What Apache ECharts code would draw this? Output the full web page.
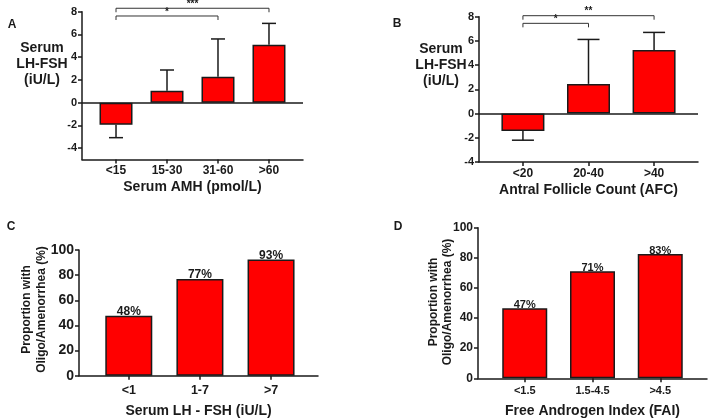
<!DOCTYPE html>
<html><head><meta charset="utf-8">
<script src="https://cdn.jsdelivr.net/npm/echarts@6/dist/echarts.min.js"></script>
<style>html,body{margin:0;padding:0;background:#fff}#c{width:708px;height:420px}</style>
</head><body><div id="c"></div>
<script>
// ---- data ----
const catsA = ['<15', '15-30', '31-60', '>60'];
const valsA = [-1.95, 1.05, 2.27, 5.1];
const errA = [1.13, 1.82, 3.33, 1.87];
const sigA = [[0, 2, 7.62, '*'], [0, 3, 8.3, '***']];
const yTicksA = [-4, -2, 0, 2, 4, 6, 8];

const catsB = ['<20', '20-40', '>40'];
const valsB = [-1.45, 2.45, 5.24];
const errB = [0.75, 3.67, 1.46];
const sigB = [[0, 1, 7.45, '*'], [0, 2, 8.08, '**']];
const yTicksB = [-4, -2, 0, 2, 4, 6, 8];

const catsC = ['<1', '1-7', '>7'];
const valsC = [47.7, 77, 92.5];
const labelsC = ['48%', '77%', '93%'];

const catsD = ['<1.5', '1.5-4.5', '>4.5'];
const valsD = [46.5, 71, 82.5];
const labelsD = ['47%', '71%', '83%'];
const yTicksCD = [0, 20, 40, 60, 80, 100];

// ---- styling ----
const FF = '"Liberation Sans", Arial, Helvetica, sans-serif';
const INK = '#1a1a1a';
const RED = '#ff0000';
const idx = a => a.map((_, i) => i);

function xAx(gi, cats, min, max, fs, margin) {
  return {
    type: 'value', gridIndex: gi, min: min, max: max,
    axisLine: { show: true, onZero: false, lineStyle: { color: INK, width: 1.5 } },
    axisTick: { show: true, length: 4, customValues: idx(cats), lineStyle: { color: INK, width: 1.5 } },
    axisLabel: { customValues: idx(cats), margin: margin, color: INK, fontFamily: FF, fontWeight: 'bold', fontSize: fs,
      formatter: v => cats[Math.round(v)] === undefined ? '' : cats[Math.round(v)] },
    splitLine: { show: false }
  };
}
function yAx(gi, min, max, ticks, fs) {
  return {
    type: 'value', gridIndex: gi, min: min, max: max,
    axisLine: { show: true, onZero: false, lineStyle: { color: INK, width: 1.5 } },
    axisTick: { show: true, length: 4, customValues: ticks, lineStyle: { color: INK, width: 1.5 } },
    axisLabel: { customValues: ticks, margin: 5, color: INK, fontFamily: FF, fontWeight: 'bold', fontSize: fs },
    splitLine: { show: false }
  };
}
function bars(gi, vals, w, extra) {
  return Object.assign({
    type: 'bar', xAxisIndex: gi, yAxisIndex: gi, barWidth: w,
    data: vals.map((v, i) => [i, v]),
    itemStyle: { color: RED, borderColor: INK, borderWidth: 1.5 },
    silent: true
  }, extra || {});
}
function zeroLine() {
  return { silent: true, symbol: ['none', 'none'], label: { show: false },
    lineStyle: { color: INK, width: 1.5, type: 'solid' }, data: [{ yAxis: 0 }] };
}
function errSeries(gi, vals, errs, capHalf) {
  return {
    type: 'custom', xAxisIndex: gi, yAxisIndex: gi, clip: false, silent: true, z: 3,
    data: vals.map((v, i) => [i, v, errs[i]]),
    encode: { x: 0, y: 1 },
    renderItem: function (params, api) {
      const x = api.value(0), v = api.value(1), e = api.value(2);
      const end = v >= 0 ? v + e : v - e;
      const p0 = api.coord([x, v]), p1 = api.coord([x, end]);
      const st = { stroke: INK, lineWidth: 1.5 };
      return { type: 'group', children: [
        { type: 'line', shape: { x1: p0[0], y1: p0[1], x2: p1[0], y2: p1[1] }, style: st },
        { type: 'line', shape: { x1: p1[0] - capHalf, y1: p1[1], x2: p1[0] + capHalf, y2: p1[1] }, style: st }
      ] };
    }
  };
}
function sigSeries(gi, sig) {
  return {
    type: 'custom', xAxisIndex: gi, yAxisIndex: gi, clip: false, silent: true, z: 4,
    data: sig.map(s => [s[0], s[1], s[2]]),
    encode: { x: [0, 1], y: 2 },
    renderItem: function (params, api) {
      const a = api.coord([api.value(0), api.value(2)]);
      const b = api.coord([api.value(1), api.value(2)]);
      const y = a[1];
      return { type: 'group', children: [
        { type: 'polyline', shape: { points: [[a[0], y + 4], [a[0], y], [b[0], y], [b[0], y + 4]] },
          style: { stroke: '#333', lineWidth: 1, fill: null } },
        { type: 'text', x: (a[0] + b[0]) / 2, y: y + 1,
          style: { text: sig[params.dataIndex][3], fill: INK, font: 'bold 10px ' + FF, align: 'center', verticalAlign: 'bottom' } }
      ] };
    }
  };
}
function txt(x, y, text, size, opts) {
  return Object.assign({
    type: 'text', x: x, y: y, silent: true,
    style: Object.assign({ text: text, fill: INK, fontFamily: FF, fontWeight: 'bold', fontSize: size,
      align: 'center', verticalAlign: 'middle' }, (opts && opts.style) || {})
  }, (opts && opts.el) || {});
}

const option = {
  animation: false,
  backgroundColor: '#fff',
  grid: [
    { left: 82, top: 11.67, width: 221, height: 147.83, outerBoundsMode: 'none' },
    { left: 479, top: 16.67, width: 219, height: 145.33, outerBoundsMode: 'none' },
    { left: 79, top: 250, width: 239, height: 125.7, outerBoundsMode: 'none' },
    { left: 478, top: 227.7, width: 229, height: 150.6, outerBoundsMode: 'none' }
  ],
  xAxis: [
    xAx(0, catsA, -0.667, 3.667, 12, 5),
    xAx(1, catsB, -0.67, 2.67, 12, 6),
    xAx(2, catsC, -0.7, 2.66, 12.5, 8),
    xAx(3, catsD, -0.69, 2.69, 11, 7)
  ],
  yAxis: [
    yAx(0, -5, 8, yTicksA, 11),
    yAx(1, -4, 8, yTicksB, 11),
    yAx(2, 0, 100, yTicksCD, 14),
    yAx(3, 0, 100, yTicksCD, 12)
  ],
  series: [
    bars(0, valsA, 33, { markLine: zeroLine() }),
    errSeries(0, valsA, errA, 7),
    sigSeries(0, sigA),
    bars(1, valsB, 43, { markLine: zeroLine() }),
    errSeries(1, valsB, errB, 11),
    sigSeries(1, sigB),
    bars(2, valsC, 47, { label: { show: true, position: 'top', distance: -2, color: INK, fontFamily: FF, fontWeight: 'bold', fontSize: 12,
      formatter: p => labelsC[p.dataIndex] } }),
    bars(3, valsD, 45, { label: { show: true, position: 'top', distance: -2, color: INK, fontFamily: FF, fontWeight: 'bold', fontSize: 11,
      formatter: p => labelsD[p.dataIndex] } })
  ],
  graphic: [
    txt(12, 25, 'A', 12), txt(397, 24, 'B', 12), txt(11, 227, 'C', 12), txt(398, 227, 'D', 12),
    txt(42, 64, 'Serum\nLH-FSH\n(iU/L)', 14, { style: { lineHeight: 16 } }),
    txt(441, 65, 'Serum\nLH-FSH\n(iU/L)', 14, { style: { lineHeight: 16 } }),
    txt(34.5, 309.5, 'Proportion with\nOligo/Amenorrhea (%)', 12, { style: { lineHeight: 15 }, el: { rotation: Math.PI / 2 } }),
    txt(441, 302, 'Proportion with\nOligo/Amenorrhea (%)', 12, { style: { lineHeight: 14 }, el: { rotation: Math.PI / 2 } }),
    txt(192.5, 187, 'Serum AMH (pmol/L)', 14),
    txt(588.5, 190, 'Antral Follicle Count (AFC)', 14),
    txt(198.5, 411, 'Serum LH - FSH (iU/L)', 14),
    txt(592.5, 411, 'Free Androgen Index (FAI)', 14)
  ]
};
const chart = echarts.init(document.getElementById('c'), null, { renderer: 'canvas' });
chart.setOption(option);
</script>
</body></html>
